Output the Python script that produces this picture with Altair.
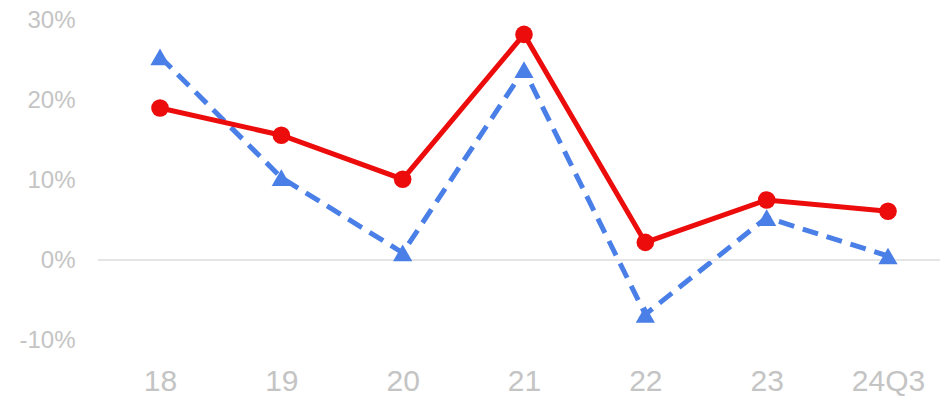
import altair as alt
import pandas as pd

periods = ["18", "19", "20", "21", "22", "23", "24Q3"]
red_vals = [19.0, 15.6, 10.1, 28.2, 2.2, 7.5, 6.1]
blue_vals = [25.4, 10.3, 0.9, 23.8, -6.8, 5.3, 0.5]
y_ticks = [-10, 0, 10, 20, 30]

df = pd.DataFrame({
    "period": periods * 2,
    "value": red_vals + blue_vals,
    "series": ["red"] * len(periods) + ["blue"] * len(periods),
})

W, H = 842, 320
RED = "#ec0c0c"
BLUE = "#4a7fe8"

x_enc = alt.X("period:O", sort=periods,
              scale=alt.Scale(type="point", padding=0, range=[62, 790]),
              axis=alt.Axis(title=None, ticks=False, domain=False, labelAngle=0, grid=False,
                            labelFont="Liberation Sans", labelFontSize=30,
                            labelColor="#c4c4c4", labelBaseline="alphabetic",
                            labelPadding=50))
y_enc = alt.Y("value:Q", scale=alt.Scale(domain=[-10, 30], nice=False, zero=False),
              axis=alt.Axis(title=None, ticks=False, domain=False, grid=False,
                            values=y_ticks, labelExpr="datum.value + '%'",
                            labelFont="Liberation Sans", labelFontSize=24,
                            labelColor="#c4c4c4", labelPadding=23))

base = alt.Chart(df)

zero = base.mark_rule(color="#e4e4e4", strokeWidth=1.5).encode(
    y=alt.Y(datum=0), x=alt.value(0), x2=alt.value(W))

blue = base.transform_filter(alt.datum.series == "blue")
red = base.transform_filter(alt.datum.series == "red")

blue_line = blue.mark_line(color=BLUE, strokeWidth=5, strokeDash=[16, 9]).encode(x=x_enc, y=y_enc)
blue_pts = blue.mark_point(shape="triangle-up", filled=True, opacity=1, color=BLUE, size=370).encode(x=x_enc, y=y_enc)
red_line = red.mark_line(color=RED, strokeWidth=5).encode(x=x_enc, y=y_enc)
red_pts = red.mark_point(shape="circle", filled=True, opacity=1, color=RED, size=310).encode(x=x_enc, y=y_enc)

chart = alt.layer(blue_line, zero, blue_pts, red_line, red_pts).properties(
    width=W, height=H,
    background="white",
    autosize=alt.AutoSizeParams(type="none"),
    padding={"left": 98, "top": 20, "right": 0, "bottom": 59},
).configure_view(stroke="transparent").configure_axis(grid=False)

chart.save("out.html", embed_options={"renderer": "svg", "actions": False})
